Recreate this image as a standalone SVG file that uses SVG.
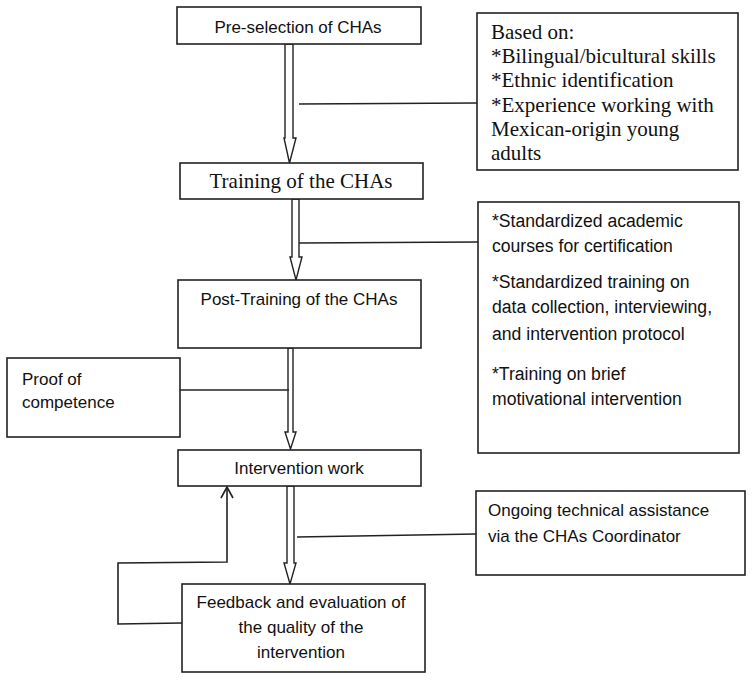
<svg xmlns="http://www.w3.org/2000/svg" width="753" height="681" viewBox="0 0 753 681">
<style>
.box{fill:#fff;stroke:#222;stroke-width:1.6}
.sans{font-family:"Liberation Sans",Arial,sans-serif;font-size:17px;fill:#111}
.big{font-size:17.6px}
.serif{font-family:"Liberation Serif","Times New Roman",serif;font-size:21px;fill:#111}
.mid{text-anchor:middle}
.ln{fill:none;stroke:#222;stroke-width:1.6}
.arr{fill:#fff;stroke:#222;stroke-width:1.4}
</style>
<rect width="753" height="681" fill="#fff"/>
<g id="connectors">
<polygon class="arr" points="285,44 293,44 293,138 296,138 289.5,163 284,138 285,138"/>
<polygon class="arr" points="292,199 299,199 299,257 302,257 296,280 290,257 292,257"/>
<polygon class="arr" points="288,348 293,348 293,432 296,432 290.5,449 285,432 288,432"/>
<polygon class="arr" points="287,486 294,486 294,563 296,563 290,584 284,563 287,563"/>
<line class="ln" x1="299" y1="104" x2="477" y2="103"/>
<line class="ln" x1="299" y1="243" x2="478" y2="242"/>
<line class="ln" x1="180" y1="390" x2="289" y2="390"/>
<line class="ln" x1="297" y1="537" x2="476" y2="534"/>
<polyline class="ln" points="182,623 118,624 118,563 227,562 227,488"/>
<polyline class="ln" points="221,498 227,487 233,498"/>
</g>
<g id="preselection">
<rect class="box" x="177" y="7" width="244" height="37"/>
<text class="sans mid" x="298" y="33">Pre-selection of CHAs</text>
</g>
<g id="basedon">
<rect class="box" x="477" y="13" width="261" height="157"/>
<text class="serif" x="491" y="39">Based on:</text>
<text class="serif" x="491" y="63">*Bilingual/bicultural skills</text>
<text class="serif" x="491" y="87">*Ethnic identification</text>
<text class="serif" x="491" y="112">*Experience working with</text>
<text class="serif" x="491" y="136">Mexican-origin young</text>
<text class="serif" x="491" y="160">adults</text>
</g>
<g id="training">
<rect class="box" x="180" y="163" width="243" height="36"/>
<text class="serif mid" x="301" y="188">Training of the CHAs</text>
</g>
<g id="standardized">
<rect class="box" x="478" y="202" width="261" height="251"/>
<text class="sans big" x="492" y="227">*Standardized academic</text>
<text class="sans big" x="492" y="252">courses for certification</text>
<text class="sans big" x="492" y="288">*Standardized training on</text>
<text class="sans big" x="492" y="313">data collection, interviewing,</text>
<text class="sans big" x="492" y="340">and intervention protocol</text>
<text class="sans big" x="492" y="380">*Training on brief</text>
<text class="sans big" x="492" y="405">motivational intervention</text>
</g>
<g id="posttraining">
<rect class="box" x="178" y="280" width="243" height="68"/>
<text class="sans mid" x="299" y="305">Post-Training of the CHAs</text>
</g>
<g id="proof">
<rect class="box" x="7" y="358" width="173" height="79"/>
<text class="sans" x="22" y="385">Proof of</text>
<text class="sans" x="22" y="408">competence</text>
</g>
<g id="intervention">
<rect class="box" x="178" y="450" width="243" height="36"/>
<text class="sans mid" x="299" y="474">Intervention work</text>
</g>
<g id="ongoing">
<rect class="box" x="476" y="491" width="269" height="84"/>
<text class="sans" x="488" y="516">Ongoing technical assistance</text>
<text class="sans" x="488" y="542">via the CHAs Coordinator</text>
</g>
<g id="feedback">
<rect class="box" x="182" y="584" width="243" height="88"/>
<text class="sans mid" x="301" y="608">Feedback and evaluation of</text>
<text class="sans mid" x="301" y="633">the quality of the</text>
<text class="sans mid" x="301" y="658">intervention</text>
</g>
</svg>
